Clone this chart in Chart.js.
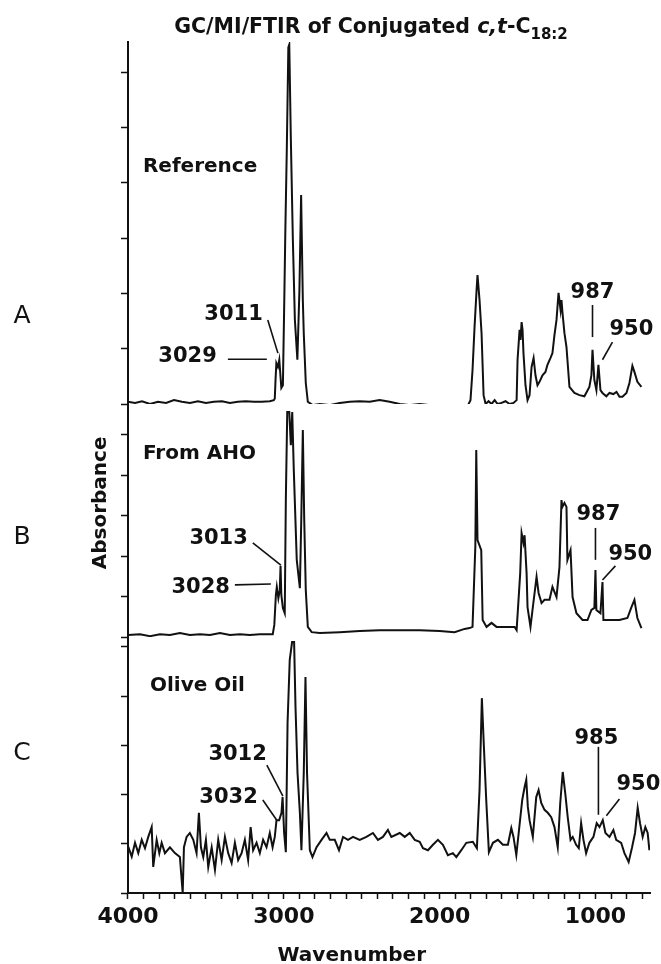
<!DOCTYPE html>
<html>
<head>
<meta charset="utf-8">
<title>GC/MI/FTIR of Conjugated c,t-C18:2</title>
<script src="https://cdn.jsdelivr.net/npm/chart.js@4.4.1/dist/chart.umd.min.js"></script>
<style>
  html, body { margin: 0; padding: 0; background: #fff; }
  #wrap { width: 661px; height: 964px; }
</style>
</head>
<body>
<div id="wrap"><canvas id="ftirChart" width="661" height="964"></canvas></div>
<script>
// ---- data: [wavenumber, absorbance in tick units] ----
const spectrumA = [
  [4000,0.04],[3955,0.02],[3910,0.05],[3859,0.00],[3808,0.04],[3756,0.02],[3705,0.07],[3654,0.04],
  [3603,0.02],[3551,0.05],[3500,0.02],[3449,0.04],[3397,0.05],[3346,0.02],[3295,0.04],[3244,0.05],
  [3192,0.04],[3141,0.04],[3090,0.05],[3064,0.07],[3058,0.10],[3053,0.45],[3048,0.74],[3038,0.67],
  [3029,0.80],[3016,0.29],[3006,0.34],[2997,1.88],[2990,3.18],[2981,4.59],[2971,6.45],[2965,6.50],
  [2955,4.80],[2942,2.97],[2929,1.52],[2913,0.80],[2900,2.05],[2889,3.78],[2878,1.88],[2872,1.28],
  [2859,0.38],[2846,0.04],[2814,-0.02],[2769,0.00],[2705,-0.02],[2641,0.02],[2577,0.04],[2513,0.05],
  [2449,0.04],[2385,0.07],[2321,0.04],[2256,0.00],[2192,-0.02],[2128,0.00],[2064,-0.02],[2000,-0.04],
  [1936,-0.05],[1872,-0.05],[1821,-0.04],[1802,0.07],[1789,0.61],[1776,1.39],[1763,2.06],[1757,2.33],
  [1744,1.88],[1731,1.28],[1718,0.16],[1705,0.00],[1686,0.05],[1667,0.00],[1647,0.07],[1628,0.00],
  [1603,0.02],[1577,0.05],[1551,0.00],[1526,0.02],[1506,0.07],[1500,0.80],[1487,1.34],[1481,1.16],
  [1474,1.48],[1468,1.34],[1462,0.92],[1449,0.34],[1436,0.07],[1423,0.16],[1410,0.67],[1397,0.83],
  [1385,0.52],[1372,0.34],[1359,0.40],[1340,0.52],[1321,0.58],[1308,0.71],[1289,0.83],[1276,0.92],
  [1263,1.25],[1250,1.52],[1237,2.01],[1224,1.70],[1218,1.88],[1212,1.66],[1199,1.28],[1186,1.03],
  [1167,0.31],[1135,0.20],[1103,0.16],[1071,0.14],[1039,0.31],[1026,0.52],[1019,0.98],[1007,0.43],
  [994,0.25],[981,0.71],[968,0.25],[955,0.20],[930,0.14],[910,0.20],[885,0.18],[865,0.22],
  [846,0.13],[827,0.13],[801,0.20],[782,0.38],[763,0.69],[750,0.58],[731,0.40],[705,0.31]
];

const spectrumB = [
  [4000,0.05],[3923,0.07],[3859,0.02],[3795,0.07],[3731,0.05],[3667,0.10],[3603,0.05],[3538,0.07],
  [3474,0.05],[3410,0.10],[3346,0.05],[3282,0.07],[3218,0.05],[3154,0.07],[3090,0.07],[3071,0.07],
  [3061,0.30],[3051,1.04],[3045,1.24],[3035,0.96],[3026,1.16],[3021,1.76],[3016,1.04],[3006,0.72],
  [2994,0.59],[2987,3.42],[2978,5.57],[2965,5.57],[2955,4.75],[2946,5.57],[2936,4.13],[2917,1.91],
  [2897,1.21],[2888,2.90],[2878,5.12],[2869,2.90],[2859,1.16],[2846,0.25],[2821,0.12],[2769,0.10],
  [2641,0.12],[2513,0.15],[2385,0.17],[2256,0.17],[2128,0.17],[2000,0.15],[1904,0.12],[1840,0.20],
  [1808,0.22],[1789,0.25],[1771,2.23],[1765,4.63],[1757,2.40],[1733,2.15],[1724,0.42],[1699,0.25],
  [1667,0.35],[1635,0.25],[1519,0.25],[1506,0.17],[1483,1.58],[1474,2.57],[1462,2.33],[1455,2.52],
  [1442,1.58],[1436,0.74],[1417,0.25],[1404,0.67],[1378,1.49],[1365,1.09],[1346,0.84],[1327,0.92],
  [1295,0.92],[1276,1.24],[1250,0.99],[1231,1.73],[1218,3.39],[1212,3.22],[1199,3.32],[1186,3.22],
  [1180,1.91],[1160,2.15],[1147,0.99],[1122,0.59],[1083,0.42],[1051,0.42],[1026,0.67],[1007,0.72],
  [1000,1.66],[994,0.67],[968,0.59],[955,1.36],[949,0.42],[910,0.42],[846,0.42],[795,0.47],
  [769,0.74],[750,0.92],[731,0.47],[705,0.22]
];

const spectrumC = [
  [3998,0.94],[3976,0.74],[3955,1.02],[3934,0.81],[3912,1.08],[3891,0.91],[3870,1.14],[3848,1.34],
  [3838,0.53],[3816,1.08],[3799,0.81],[3784,1.02],[3763,0.81],[3731,0.93],[3699,0.81],[3667,0.73],
  [3649,0.00],[3641,0.93],[3624,1.14],[3603,1.22],[3581,1.08],[3560,0.81],[3545,1.63],[3532,0.93],
  [3517,0.73],[3500,1.08],[3485,0.53],[3463,0.93],[3442,0.47],[3421,1.08],[3399,0.67],[3378,1.14],
  [3357,0.81],[3335,0.61],[3314,1.02],[3293,0.67],[3271,0.81],[3250,1.08],[3229,0.67],[3213,1.34],
  [3197,0.87],[3175,1.02],[3154,0.81],[3133,1.08],[3111,0.93],[3090,1.22],[3072,0.93],[3058,1.14],
  [3047,1.48],[3030,1.48],[3015,1.63],[3008,1.95],[2998,1.22],[2987,0.83],[2976,3.46],[2962,4.74],
  [2947,5.10],[2934,5.10],[2925,3.78],[2912,2.44],[2897,1.63],[2887,0.87],[2872,2.44],[2861,4.39],
  [2851,2.44],[2833,0.87],[2816,0.73],[2790,0.93],[2758,1.08],[2726,1.22],[2705,1.08],[2673,1.08],
  [2646,0.87],[2620,1.14],[2588,1.08],[2556,1.14],[2513,1.08],[2470,1.14],[2428,1.22],[2396,1.08],
  [2364,1.14],[2332,1.28],[2310,1.14],[2256,1.22],[2224,1.14],[2192,1.22],[2160,1.08],[2128,1.04],
  [2107,0.91],[2075,0.87],[2043,0.98],[2011,1.08],[1979,0.98],[1947,0.77],[1915,0.81],[1893,0.73],
  [1861,0.87],[1829,1.02],[1787,1.04],[1761,0.91],[1744,2.09],[1729,3.96],[1716,2.97],[1701,1.89],
  [1684,0.83],[1658,1.02],[1626,1.08],[1594,0.98],[1562,0.98],[1540,1.32],[1526,1.14],[1508,0.77],
  [1492,1.24],[1470,1.89],[1455,2.15],[1444,2.30],[1434,1.75],[1423,1.48],[1402,1.14],[1380,1.95],
  [1365,2.09],[1348,1.83],[1327,1.69],[1306,1.63],[1284,1.54],[1263,1.34],[1242,0.93],[1226,1.83],
  [1210,2.46],[1194,2.03],[1178,1.54],[1160,1.08],[1146,1.14],[1124,0.98],[1107,0.91],[1092,1.42],
  [1077,1.08],[1060,0.81],[1039,1.02],[1013,1.14],[992,1.42],[974,1.34],[953,1.48],[936,1.22],
  [910,1.14],[885,1.28],[867,1.08],[835,1.02],[814,0.81],[787,0.63],[765,0.93],[746,1.22],
  [729,1.73],[714,1.42],[697,1.14],[680,1.34],[665,1.22],[654,0.87]
];

const panelLetters = ['A', 'B', 'C'];
const panelNames = ['Reference', 'From AHO', 'Olive Oil'];
const peakLabelsA = ['3029', '3011', '987', '950'];
const peakLabelsB = ['3028', '3013', '987', '950'];
const peakLabelsC = ['3032', '3012', '985', '950'];

const xTickLabels = [4000, 3000, 2000, 1000];
const yTicksA = [0, 1, 2, 3, 4, 5, 6];
const yTicksB = [0, 1, 2, 3, 4, 5];
const yTicksC = [0, 1, 2, 3, 4, 5];

// ---- styling ----
const INK = '#111';
const FONT = 'DejaVu Sans';

// minor ticks every 100 cm-1
const xTickValues = [];
for (let v = 700; v <= 4000; v += 100) xTickValues.push(v);

function toPoints(arr) {
  return arr.map(p => ({ x: p[0], y: p[1] }));
}

function traceDataset(arr, axis) {
  return {
    type: 'line',
    data: toPoints(arr),
    yAxisID: axis,
    borderColor: INK,
    borderWidth: 2,
    pointRadius: 0,
    tension: 0,
    fill: false
  };
}

function yAxis(max, ticks, weight, stackWeight) {
  return {
    type: 'linear',
    position: 'left',
    stack: 'panels',
    stackWeight: stackWeight,
    weight: weight,
    min: 0,
    max: max,
    afterBuildTicks: (scale) => { scale.ticks = ticks.map(v => ({ value: v })); },
    afterFit: (scale) => { scale.width = 7; },
    ticks: { display: false },
    grid: { drawOnChartArea: false, drawTicks: true, tickLength: 7, color: INK, tickWidth: 1.5 },
    border: { display: true, color: INK, width: 2 }
  };
}

// per-panel label geometry in data units: [textWn, textVal, align, fromWn, fromVal, toWn, toVal]
const peakGeometry = {
  yA: [
    [3430, 0.89, 'right', 3359, 0.81, 3109, 0.81],
    [3135, 1.65, 'right', 3103, 1.52, 3038, 0.92],
    [1019, 2.06, 'center', 1019, 1.79, 1019, 1.21],
    [910, 1.39, 'left', 891, 1.12, 955, 0.80]
  ],
  yB: [
    [3346, 1.29, 'right', 3314, 1.29, 3083, 1.31],
    [3231, 2.48, 'right', 3199, 2.33, 3019, 1.78],
    [981, 3.09, 'center', 1000, 2.70, 1000, 1.91],
    [917, 2.10, 'left', 872, 1.76, 955, 1.41]
  ],
  yC: [
    [3167, 1.99, 'right', 3135, 1.89, 3045, 1.48],
    [3109, 2.85, 'right', 3109, 2.60, 3006, 1.97],
    [994, 3.19, 'center', 981, 2.97, 981, 1.59],
    [865, 2.24, 'left', 846, 1.91, 930, 1.57]
  ]
};
const nameGeometry = { yA: [3904, 4.32], yB: [3904, 4.58], yC: [3859, 4.25] };
const letterGeometry = { yA: 1.63, yB: 2.52, yC: 2.89 };

function textAtCenter(ctx, str, x, yMid, size) {
  ctx.fillText(str, x, yMid + 0.729 * size / 2);
}

const textPlugin = {
  id: 'ftirText',
  afterDraw(chart) {
    const ctx = chart.ctx;
    const xs = chart.scales.x;
    const area = chart.chartArea;
    ctx.save();
    ctx.fillStyle = INK;
    ctx.strokeStyle = INK;
    ctx.textBaseline = 'alphabetic';

    // title with italic c,t and subscript
    const parts = [
      { t: 'GC/MI/FTIR of Conjugated ', f: 'bold 20.5px "' + FONT + '"', dy: 0 },
      { t: 'c,t', f: 'italic bold 20.5px "' + FONT + '"', dy: 0 },
      { t: '-C', f: 'bold 20.5px "' + FONT + '"', dy: 0 },
      { t: '18:2', f: 'bold 15px "' + FONT + '"', dy: 6 }
    ];
    let total = 0;
    parts.forEach(p => { ctx.font = p.f; p.w = ctx.measureText(p.t).width; total += p.w; });
    let tx = area.left + 243 - total / 2;
    ctx.textAlign = 'left';
    parts.forEach(p => { ctx.font = p.f; ctx.fillText(p.t, tx, 33 + p.dy); tx += p.w; });

    const panelIds = ['yA', 'yB', 'yC'];
    const peakSets = { yA: peakLabelsA, yB: peakLabelsB, yC: peakLabelsC };
    panelIds.forEach((id, i) => {
      const ys = chart.scales[id];
      // panel letter
      ctx.font = '25px "' + FONT + '"';
      ctx.textAlign = 'center';
      textAtCenter(ctx, panelLetters[i], area.left - 106, ys.getPixelForValue(letterGeometry[id]), 25);
      // sample name
      ctx.font = 'bold 20px "' + FONT + '"';
      ctx.textAlign = 'left';
      const ng = nameGeometry[id];
      textAtCenter(ctx, panelNames[i], xs.getPixelForValue(ng[0]), ys.getPixelForValue(ng[1]), 20);
      // peak labels and leaders
      ctx.font = 'bold 21px "' + FONT + '"';
      ctx.lineWidth = 1.6;
      peakSets[id].forEach((lab, k) => {
        const g = peakGeometry[id][k];
        ctx.textAlign = g[2];
        textAtCenter(ctx, lab, xs.getPixelForValue(g[0]), ys.getPixelForValue(g[1]), 21);
        ctx.beginPath();
        ctx.moveTo(xs.getPixelForValue(g[3]), ys.getPixelForValue(g[4]));
        ctx.lineTo(xs.getPixelForValue(g[5]), ys.getPixelForValue(g[6]));
        ctx.stroke();
      });
    });

    // y-axis title, centred on panel B
    const yB = chart.scales.yB;
    ctx.save();
    ctx.translate(area.left - 22, yB.getPixelForValue(3.32));
    ctx.rotate(-Math.PI / 2);
    ctx.font = 'bold 20px "' + FONT + '"';
    ctx.textAlign = 'center';
    ctx.fillText('Absorbance', 0, 0);
    ctx.restore();

    // x-axis title
    ctx.font = 'bold 20px "' + FONT + '"';
    ctx.textAlign = 'center';
    ctx.fillText('Wavenumber', xs.getPixelForValue(2564), xs.top + 68);
    ctx.restore();
  }
};

const ctxFtir = document.getElementById('ftirChart').getContext('2d');

const ftirChart = new Chart(ctxFtir, {
  data: {
    datasets: [
      traceDataset(spectrumA, 'yA'),
      traceDataset(spectrumB, 'yB'),
      traceDataset(spectrumC, 'yC')
    ]
  },
  options: {
    responsive: false,
    animation: false,
    events: [],
    layout: { padding: { top: 42, left: 121, right: 11, bottom: 31 } },
    plugins: { legend: { display: false }, tooltip: { enabled: false } },
    scales: {
      x: {
        type: 'linear',
        position: 'bottom',
        reverse: true,
        min: 650,
        max: 4000,
        afterBuildTicks: (scale) => { scale.ticks = xTickValues.map(v => ({ value: v })); },
        afterFit: (scale) => { scale.height = 40; },
        ticks: {
          autoSkip: false,
          maxRotation: 0,
          padding: 5,
          color: INK,
          font: { family: FONT, weight: 'bold', size: 22 },
          callback: (v) => xTickLabels.includes(v) ? String(v) : ''
        },
        grid: { drawOnChartArea: false, drawTicks: true, tickLength: 6, color: INK, tickWidth: 1.5 },
        border: { display: true, color: INK, width: 2 }
      },
      yC: yAxis(5.203, yTicksC, 1, 256),
      yB: yAxis(5.767, yTicksB, 2, 233),
      yA: yAxis(6.546, yTicksA, 3, 362)
    }
  },
  plugins: [textPlugin]
});
</script>
</body>
</html>
